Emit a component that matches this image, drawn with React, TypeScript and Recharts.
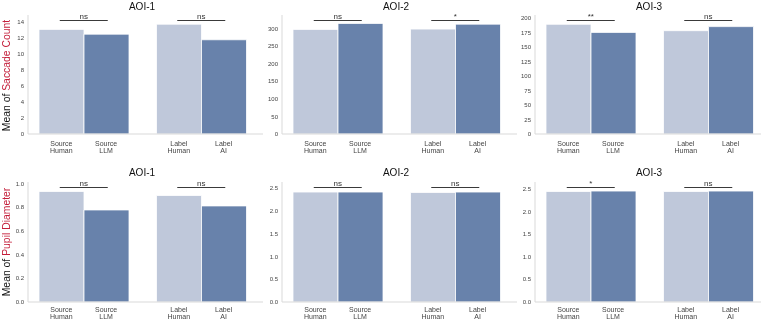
import React from 'react';
import { BarChart, Bar, XAxis, YAxis, ReferenceDot } from 'recharts';

// categories and hue labels
const groups = ['Source', 'Label'];
const aiNames = ['LLM', 'AI'];
const aoiTitles = ['AOI-1', 'AOI-2', 'AOI-3'];

// values per AOI: [Source Human, Source LLM, Label Human, Label AI]
const saccade1 = [13.1, 12.5, 13.75, 11.8];
const saccade2 = [297, 314, 298, 312];
const saccade3 = [189, 175, 178, 185];
const pupil1 = [0.933, 0.777, 0.899, 0.811];
const pupil2 = [2.41, 2.41, 2.4, 2.41];
const pupil3 = [2.44, 2.45, 2.44, 2.45];

// significance marks per AOI: [Source pair, Label pair]
const saccadeSig = [['ns', 'ns'], ['ns', '*'], ['**', 'ns']];
const pupilSig = [['ns', 'ns'], ['ns', 'ns'], ['*', 'ns']];
const saccadeSigY = [14.25, 323, 197];
const pupilSigY = [0.967, 2.51, 2.54];

// axis limits and ticks
const saccadeTop = [14.9, 338, 205];
const pupilTop = [1.013, 2.63, 2.65];
const saccadeTicks = [
  [0, 2, 4, 6, 8, 10, 12, 14],
  [0, 50, 100, 150, 200, 250, 300],
  [0, 25, 50, 75, 100, 125, 150, 175, 200],
];
const pupilTicks = [
  [0, 0.2, 0.4, 0.6, 0.8, 1.0],
  [0, 0.5, 1.0, 1.5, 2.0, 2.5],
  [0, 0.5, 1.0, 1.5, 2.0, 2.5],
];

const LIGHT = '#bfc8da';
const DARK = '#6882ab';
const FONT = '"Liberation Sans", Arial, sans-serif';
const AXIS_LEFTS = [28, 282, 535];
const HALF_BAR = 22.4;

const rows = [
  { top: 0, marginTop: 15, xHeight: 26, d1: 11.5, d2: 19, titleY: 9.5 },
  { top: 160, marginTop: 22, xHeight: 18, d1: 9.5, d2: 16.5, titleY: 176 },
];

const XTick = (props: any) => {
  const { x, y, payload, d1, d2 } = props;
  const i = groups.indexOf(payload.value);
  const style = { fontSize: 7, fill: '#444', fontFamily: FONT };
  return (
    <g>
      <text x={x - HALF_BAR} y={y + d1} textAnchor="middle" style={style}>{payload.value}</text>
      <text x={x - HALF_BAR} y={y + d2} textAnchor="middle" style={style}>Human</text>
      <text x={x + HALF_BAR} y={y + d1} textAnchor="middle" style={style}>{payload.value}</text>
      <text x={x + HALF_BAR} y={y + d2} textAnchor="middle" style={style}>{aiNames[i]}</text>
    </g>
  );
};

const SigMark = ({ cx, cy, text }: any) => {
  const ly = Math.round(cy) + 0.5;
  return (
    <g>
      <line x1={cx - 24} x2={cx + 24} y1={ly} y2={ly} stroke="#3a3a3a" strokeWidth={1.2} />
      <text x={cx} y={ly - 2} textAnchor="middle" style={{ fontSize: 8, fill: '#333', fontFamily: FONT }}>{text}</text>
    </g>
  );
};

interface PanelProps {
  values: number[];
  sig: string[];
  sigY: number;
  top: number;
  ticks: number[];
  left: number;
  row: typeof rows[0];
  decimals: number;
}

const Panel = ({ values, sig, sigY, top, ticks, left, row, decimals }: PanelProps) => {
  const data = groups.map((g, i) => ({ group: g, human: values[2 * i], ai: values[2 * i + 1], sig: sig[i] }));
  return (
    <div style={{ position: 'absolute', left: left - 28, top: row.top, willChange: 'transform' }}>
      <BarChart
        width={265}
        height={160}
        data={data}
        margin={{ top: row.marginTop, right: 2, bottom: 0, left: 0 }}
        barGap={0}
        barCategoryGap={14}
      >
        <XAxis
          dataKey="group"
          height={row.xHeight}
          padding={{ left: -3, right: 3 }}
          axisLine={{ stroke: '#d9d9d9' }}
          tickLine={false}
          tickSize={0}
          tickMargin={0}
          interval={0}
          tick={<XTick d1={row.d1} d2={row.d2} />}
        />
        <YAxis
          type="number"
          width={28}
          domain={[0, top]}
          ticks={ticks}
          axisLine={{ stroke: '#d9d9d9' }}
          tickLine={false}
          tickSize={0}
          tickMargin={4}
          tickFormatter={(v: number) => v.toFixed(decimals)}
          tick={{ fontSize: 6, fill: '#444', fontFamily: FONT }}
        />
        <Bar dataKey="human" fill={LIGHT} stroke="#ffffff" strokeWidth={0.8} isAnimationActive={false} />
        <Bar dataKey="ai" fill={DARK} stroke="#ffffff" strokeWidth={0.8} isAnimationActive={false} />
        {data.map((d) => (
          <ReferenceDot
            key={d.group}
            x={d.group}
            y={sigY}
            shape={(p: any) => <SigMark cx={p.cx} cy={p.cy} text={d.sig} />}
          />
        ))}
      </BarChart>
    </div>
  );
};

const YTitle = ({ cy, metric }: { cy: number; metric: string }) => (
  <text
    transform={`translate(9.5, ${cy}) rotate(-90)`}
    textAnchor="middle"
    style={{ fontSize: 10.4, fontFamily: FONT, fill: '#111' }}
  >
    Mean of <tspan fill="#c41e3a">{metric}</tspan>
  </text>
);

export default function App() {
  const saccade = [saccade1, saccade2, saccade3];
  const pupil = [pupil1, pupil2, pupil3];
  return (
    <div
      style={{
        position: 'absolute',
        left: 0,
        top: 0,
        width: 761,
        height: 320,
        background: '#ffffff',
        overflow: 'hidden',
      }}
    >
      {AXIS_LEFTS.map((l, i) => (
        <Panel
          key={'s' + i}
          values={saccade[i]}
          sig={saccadeSig[i]}
          sigY={saccadeSigY[i]}
          top={saccadeTop[i]}
          ticks={saccadeTicks[i]}
          left={l}
          row={rows[0]}
          decimals={0}
        />
      ))}
      {AXIS_LEFTS.map((l, i) => (
        <Panel
          key={'p' + i}
          values={pupil[i]}
          sig={pupilSig[i]}
          sigY={pupilSigY[i]}
          top={pupilTop[i]}
          ticks={pupilTicks[i]}
          left={l}
          row={rows[1]}
          decimals={1}
        />
      ))}
      <svg
        width={761}
        height={320}
        style={{ position: 'absolute', left: 0, top: 0, pointerEvents: 'none', willChange: 'transform' }}
      >
        {rows.map((r, ri) =>
          AXIS_LEFTS.map((l, i) => (
            <text
              key={ri + '-' + i}
              x={l + 114}
              y={r.titleY}
              textAnchor="middle"
              style={{ fontSize: 10, fontFamily: FONT, fill: '#111' }}
            >
              {aoiTitles[i]}
            </text>
          ))
        )}
        <YTitle cy={75.5} metric="Saccade Count" />
        <YTitle cy={242} metric="Pupil Diameter" />
      </svg>
    </div>
  );
}
